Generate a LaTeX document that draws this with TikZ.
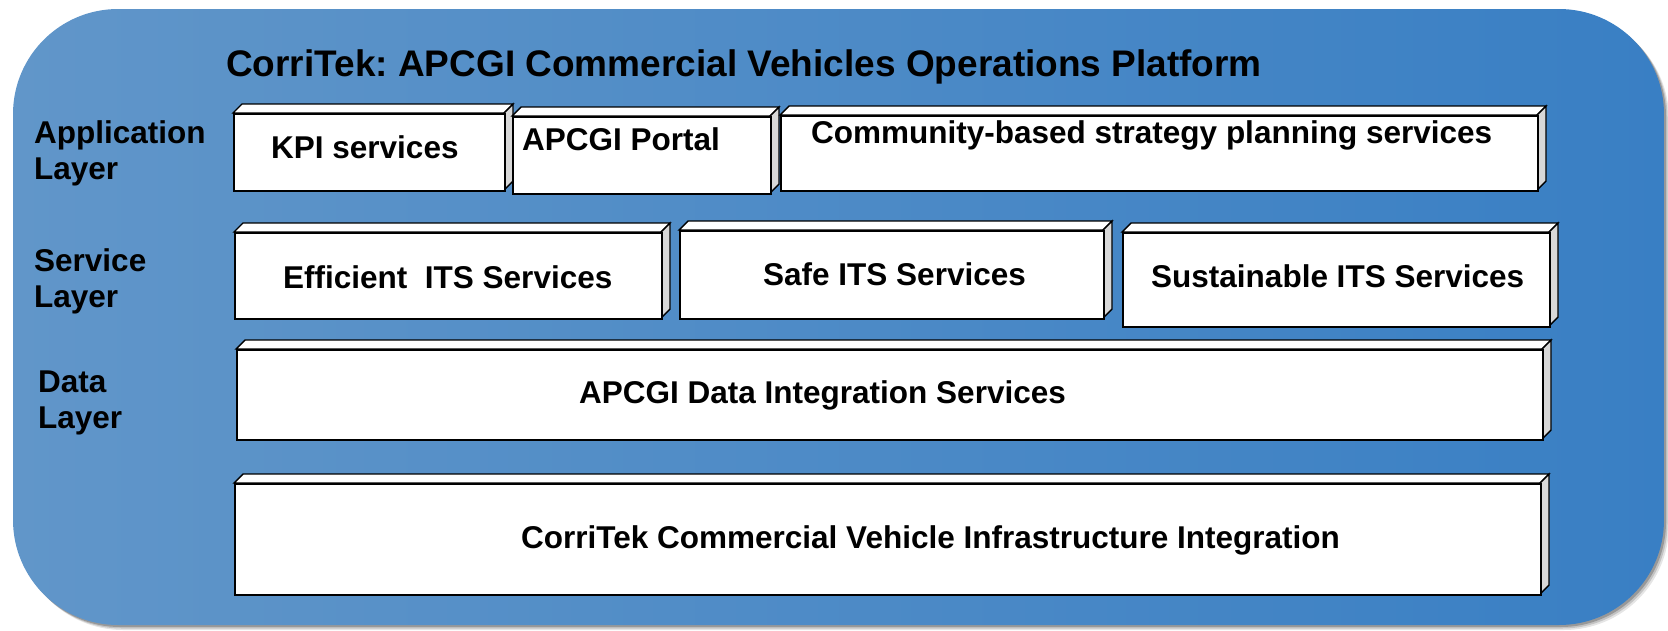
\documentclass[tikz,border=0pt]{standalone}
\usepackage{fontspec}
\setmainfont{Liberation Sans}
\frenchspacing
\definecolor{bgL}{RGB}{97,150,201}
\definecolor{bgM}{RGB}{66,141,212}
\definecolor{bgR}{RGB}{57,127,196}
\definecolor{sidegray}{RGB}{216,216,216}
\newcommand\bxd{9}
\newcommand\tdbox[5]{%
  \draw[topface] (#2,#3) -- (#2+\bxd,#3-\bxd) -- (#4+\bxd,#3-\bxd) -- (#4,#3) -- cycle;
  \draw[sideface] (#4,#3) -- (#4+\bxd,#3-\bxd) -- (#4+\bxd,#5-\bxd) -- (#4,#5) -- cycle;
  \node[frontface, minimum width={#4pt-#2pt}, minimum height={#5pt-#3pt}] (#1) at (#2,#3) {};
}
\begin{document}
\begin{tikzpicture}[x=1pt,y=-1pt,
  frontface/.style={draw=black, fill=white, line width=2pt, inner sep=0pt, rectangle, anchor=north west},
  face/.style={draw=black, line width=1.4pt, line join=miter},
  topface/.style={face, fill=white},
  sideface/.style={face, fill=sidegray},
  boxtext/.style={font=\fontsize{31.5}{36}\selectfont\bfseries, inner sep=0pt, anchor=base west},
  laytext/.style={font=\fontsize{31.5}{36}\selectfont\bfseries, inner sep=0pt, anchor=north west, align=left},
  titletext/.style={font=\fontsize{37}{42}\selectfont\bfseries, inner sep=0pt, anchor=base west},
]
\useasboundingbox (0,0) rectangle (1668,630);
% shadow of the platform panel
\foreach \o/\op in {5/0.10, 3.5/0.15, 2/0.22} {
  \fill[black, opacity=\op, rounded corners=105pt] (13+\o,9+\o) rectangle (1664+\o,625+\o);
}
% platform panel
\path[left color=bgL, middle color=bgM, right color=bgR, rounded corners=105pt] (13,9) rectangle (1664,625);

% title
\node[titletext] (title) at (226,76) {CorriTek: APCGI Commercial Vehicles Operations Platform};

% layer labels
\node[laytext] (applab) at (34,120) {Application\\Layer};
\node[laytext] (servlab) at (34,248) {Service\\Layer};
\node[laytext] (datalab) at (38,371) {Data\\Layer};

% boxes
\tdbox{kpi}{233}{113}{504}{190}
\tdbox{portal}{512}{116}{770}{193}
\tdbox{community}{780}{115}{1537}{190}
\tdbox{efficient}{234}{232}{661}{318}
\tdbox{safe}{679}{230}{1103}{318}
\tdbox{sustain}{1122}{232}{1549}{326}
\tdbox{data}{236}{349}{1542}{439}
\tdbox{infra}{234}{483}{1540}{594}

% box texts
\node[boxtext] (kpit) at (271,158) {KPI services};
\node[boxtext] (portalt) at (522,150) {APCGI Portal};
\node[boxtext] (communityt) at (811,143) {Community-based strategy planning services};
\node[boxtext] (efficientt) at (283,288) {Efficient\ \ ITS Services};
\node[boxtext] (safet) at (763,285) {Safe ITS Services};
\node[boxtext] (sustaint) at (1151,287) {Sustainable ITS Services};
\node[boxtext] (datat) at (579,403) {APCGI Data Integration Services};
\node[boxtext] (infrat) at (521,548) {CorriTek Commercial Vehicle Infrastructure Integration};
\end{tikzpicture}
\end{document}
